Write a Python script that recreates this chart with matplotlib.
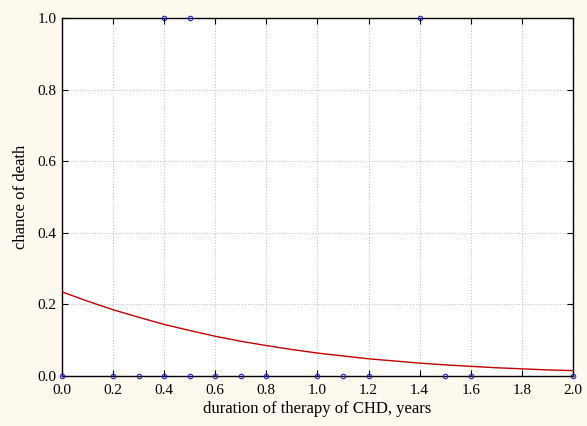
import matplotlib
matplotlib.use('Agg')
import matplotlib.pyplot as plt

# observed outcomes (0 = survived, 1 = died)
obs_x0 = [0.0, 0.2, 0.3, 0.4, 0.5, 0.6, 0.7, 0.8, 1.0, 1.1, 1.2, 1.5, 1.6, 2.0]
obs_y0 = [0] * len(obs_x0)
obs_x1 = [0.4, 0.5, 1.4]
obs_y1 = [1] * len(obs_x1)

# fitted curve
curve_x = [0.0, 0.1, 0.2, 0.3, 0.4, 0.5, 0.6, 0.7, 0.8, 0.9, 1.0,
           1.1, 1.2, 1.3, 1.4, 1.5, 1.6, 1.7, 1.8, 1.9, 2.0]
curve_y = [0.235, 0.209, 0.185, 0.164, 0.144, 0.127, 0.111, 0.097, 0.085, 0.074, 0.064,
           0.056, 0.048, 0.042, 0.036, 0.031, 0.027, 0.023, 0.020, 0.017, 0.015]

xticks = [0.0, 0.2, 0.4, 0.6, 0.8, 1.0, 1.2, 1.4, 1.6, 1.8, 2.0]
yticks = [0.0, 0.2, 0.4, 0.6, 0.8, 1.0]

plt.rcParams['font.family'] = ['Liberation Serif', 'DejaVu Serif']

fig = plt.figure(figsize=(5.87, 4.26), dpi=100)
fig.patch.set_facecolor('#fdf9ee')
ax = fig.add_axes([0.1056, 0.1174, 0.8704, 0.8403])
ax.set_facecolor('white')

ax.plot(curve_x, curve_y, color='#c00000', linewidth=1.0, zorder=3)
ax.plot(obs_x0, obs_y0, 'o', mfc='none', mec='#2020c0', ms=3.2, mew=0.8,
        clip_on=False, zorder=4)
ax.plot(obs_x1, obs_y1, 'o', mfc='none', mec='#2020c0', ms=3.2, mew=0.8,
        clip_on=False, zorder=4)

ax.set_xlim(0, 2)
ax.set_ylim(0, 1)
ax.set_xticks(xticks)
ax.set_yticks(yticks)
ax.set_xticklabels(['%.1f' % v for v in xticks])
ax.set_yticklabels(['%.1f' % v for v in yticks])
ax.tick_params(direction='in', top=True, right=True, labelsize=11, length=4,
               width=0.8, colors='black')
ax.tick_params(axis='x', pad=6)
ax.tick_params(axis='y', pad=4)
ax.grid(True, color='#c4c4c4', linestyle=':', linewidth=0.8)
for s in ax.spines.values():
    s.set_linewidth(1.0)
    s.set_color('black')

ax.set_xlabel('duration of therapy of CHD, years', fontsize=12, labelpad=3)
ax.set_ylabel('chance of death', fontsize=12, labelpad=6)

fig.savefig('out.png', dpi=100, facecolor=fig.get_facecolor())
